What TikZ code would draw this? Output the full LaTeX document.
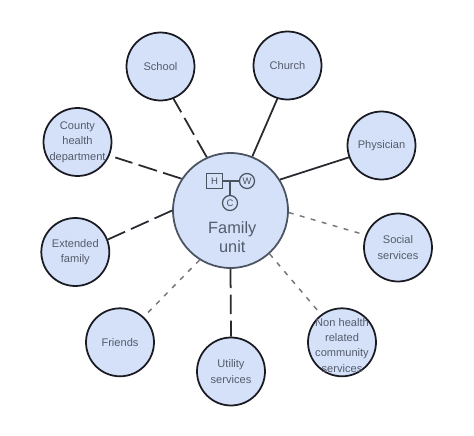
\documentclass[tikz,border=0pt]{standalone}
\usepackage{fontspec}
\setmainfont{Liberation Sans}
\usepackage{tikz}
\usetikzlibrary{arrows.meta, positioning, calc}
\definecolor{circfill}{HTML}{D4E1F9}
\definecolor{circtext}{HTML}{555C6B}
\definecolor{famline}{HTML}{4A5360}
\definecolor{outline}{HTML}{1A1A22}
\definecolor{linkgray}{HTML}{77777C}

\begin{document}
\begin{tikzpicture}[
    x=0.02cm, y=-0.02cm,
    agency/.style={draw=outline, circle, line width=1pt, fill=circfill, minimum size=1.36cm, inner sep=-12pt,
      text=circtext, font=\fontsize{6.3}{8.8}\selectfont, align=center},
    family/.style={draw=famline, circle, line width=1pt, fill=circfill, minimum size=2.3cm, inner sep=0pt},
    member/.style={draw=famline, circle, line width=0.7pt, minimum size=0.3cm, inner sep=0pt,
      text=famline, font=\fontsize{5.4}{6}\selectfont},
    strong/.style={draw=outline!85!gray, line width=1pt},
    stress/.style={draw=outline!85!gray, line width=1pt, dash pattern=on 11pt off 3.7pt},
    weak/.style={draw=linkgray, line width=0.85pt, dash pattern=on 2.8pt off 3.7pt},
  ]
  \useasboundingbox (0,0) rectangle (474,436);
  % outer ring
  \node[agency] (school) at (160.5,66.5) {School};
  \node[agency] (church) at (287.5,65.5) {Church};
  \node[agency] (physician) at (381.5,145.5) {Physician};
  \node[agency] (social) at (398,247.5) {Social\\services};
  \node[agency] (nonhealth) at (342,342.3) {};
  \node[agency] (utility) at (231,371.5) {Utility\\services};
  \node[agency] (friends) at (120,342.3) {Friends};
  \node[agency] (extended) at (75.3,252) {Extended\\family};
  \node[agency] (county) at (77.5,142) {County\\health\\department};
  \node[text=circtext, font=\fontsize{6.3}{8.8}\selectfont, align=center] (nonhealthlabel) at (342,345.3) {Non health\\related\\community\\services};
  % centre
  \node[family] (fam) at (230.5,210.5) {};
  \node[text=circtext, font=\fontsize{9.3}{11.2}\selectfont, align=center] (famlabel) at (232.3,237) {Family\\unit};
  \node[member, rectangle, minimum size=0.31cm] (husband) at (214.5,181) {H};
  \node[member] (wife) at (247,181) {W};
  \node[member] (child) at (230,203) {C};
  \coordinate (union) at (child |- husband);
  \draw[famline, line width=0.7pt] (husband) -- (wife);
  \draw[famline, line width=0.7pt] (union) -- (child);
  % links
  \draw[strong] (fam.68) -- (church.253);
  \draw[strong] (fam.32.5) -- (physician.200.6);
  \draw[stress] (fam.114) -- (school.292);
  \draw[stress, shorten >=3.4pt] (fam.147.4) -- (county.337.6);
  \draw[stress] (fam.180) -- (extended.21.4);
  \draw[stress] (fam.270) -- (utility.90);
  \draw[weak, shorten >=3.4pt] (fam.-2) -- (social.159);
  \draw[weak] (fam.-48.4) -- (nonhealth.127);
  \draw[weak] (fam.238.4) -- (friends.47.3);
\end{tikzpicture}
\end{document}
